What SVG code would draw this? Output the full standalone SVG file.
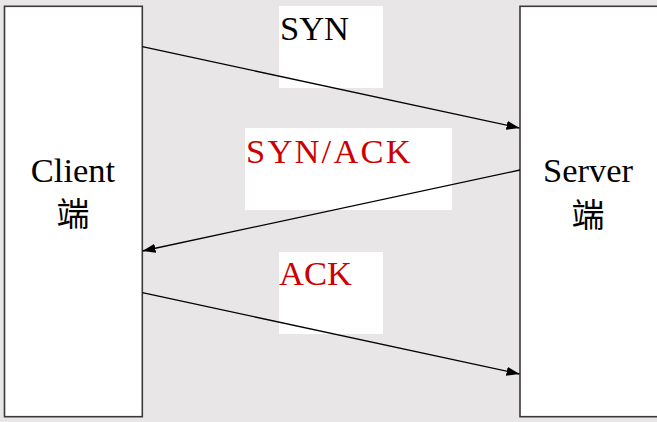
<svg xmlns="http://www.w3.org/2000/svg" width="657" height="422" viewBox="0 0 657 422">
<style>
.node{fill:#ffffff;stroke:#3a3a3a;stroke-width:1.6}
.lbl{fill:#ffffff;stroke:none}
.t{font-family:"Liberation Serif","Noto Sans CJK SC",serif;font-size:34.5px;fill:#000}
.cjk{font-family:"Noto Sans CJK SC",sans-serif;font-size:33px;fill:#000}
.red{fill:#cc0000}
.conn{stroke:#000;stroke-width:1.3;fill:none;marker-end:url(#ah)}
</style>
<defs>
<marker id="ah" viewBox="0 0 13 9" refX="13" refY="4.5" markerWidth="13" markerHeight="9" markerUnits="userSpaceOnUse" orient="auto">
<path d="M0,0 L13,4.5 L0,9 z" fill="#000"/>
</marker>
</defs>
<rect width="657" height="422" fill="#e8e6e6"/>
<g id="client">
<rect class="node" x="4.5" y="6.3" width="137.8" height="410.4"/>
<text class="t" x="73" y="182" text-anchor="middle">Client</text>
<text class="cjk" x="73" y="226" text-anchor="middle">端</text>
</g>
<g id="server">
<rect class="node" x="520" y="6.3" width="140" height="410.4"/>
<text class="t" x="588" y="182" text-anchor="middle">Server</text>
<text class="cjk" x="588" y="227" text-anchor="middle">端</text>
</g>
<g id="label-syn">
<rect class="lbl" x="279" y="6" width="104" height="82"/>
<text class="t" x="280" y="40">SYN</text>
</g>
<g id="label-synack">
<rect class="lbl" x="245" y="128" width="207" height="82"/>
<text class="t red" x="246" y="163" letter-spacing="2.2">SYN/ACK</text>
</g>
<g id="label-ack">
<rect class="lbl" x="279" y="252" width="104" height="82"/>
<text class="t red" x="279" y="285">ACK</text>
</g>
<g id="connectors">
<line class="conn" x1="142.3" y1="46.7" x2="519.5" y2="128"/>
<line class="conn" x1="520" y1="170" x2="142.5" y2="251"/>
<line class="conn" x1="142.3" y1="292.7" x2="519.5" y2="374"/>
</g>
</svg>
